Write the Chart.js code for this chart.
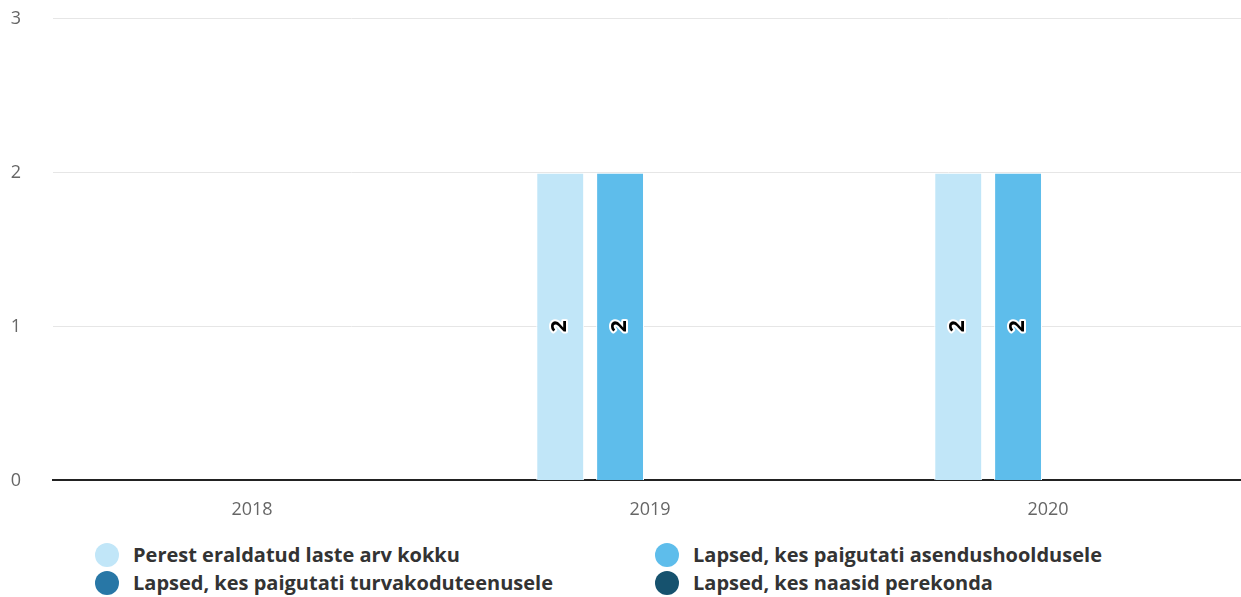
<!DOCTYPE html>
<html>
<head>
<meta charset="utf-8">
<script src="https://cdn.jsdelivr.net/npm/chart.js@4"></script>
<style>
  html, body { margin: 0; padding: 0; background: #fff; overflow: hidden; }
  #wrap { position: relative; width: 1241px; height: 597px; overflow: hidden; }
  #chartBox { position: absolute; left: -1px; top: -24px; width: 1248px; height: 564px; }
  #legend { position: absolute; left: 95px; top: 541px; width: 1100px;
    display: grid; grid-template-columns: 560px 540px; row-gap: 1px;
    font-family: "Open Sans", sans-serif; font-weight: 700; font-size: 20px; color: #333; }
  .li { display: flex; align-items: center; height: 27px; white-space: nowrap; }
  .dot { width: 24px; height: 24px; border-radius: 50%; margin-right: 14px; flex: none; }
</style>
</head>
<body>
<div id="wrap">
  <div id="chartBox"><canvas id="c"></canvas></div>
  <div id="legend"></div>
</div>
<script>
const categories = ["2018", "2019", "2020"];
const seriesNames = [
  "Perest eraldatud laste arv kokku",
  "Lapsed, kes paigutati asendushooldusele",
  "Lapsed, kes paigutati turvakoduteenusele",
  "Lapsed, kes naasid perekonda"
];
const seriesColors = ["#c1e6f8", "#5ebdeb", "#2877a6", "#16526e"];
const totalSeparated = [0, 2, 2];
const substituteCare = [0, 2, 2];
const shelterService = [0, 0, 0];
const returnedHome = [0, 0, 0];
const yTicks = [0, 1, 2, 3];

const seriesValues = [totalSeparated, substituteCare, shelterService, returnedHome];

const labelPlugin = {
  id: 'rotLabels',
  afterDatasetsDraw(chart) {
    const ctx = chart.ctx;
    chart.data.datasets.forEach((ds, i) => {
      const meta = chart.getDatasetMeta(i);
      meta.data.forEach((bar, j) => {
        const v = ds.data[j];
        if (!v) return;
        const yMid = (bar.y + bar.base) / 2;
        ctx.save();
        ctx.translate(bar.x, yMid);
        ctx.rotate(-Math.PI / 2);
        ctx.font = 'bold 21px "Open Sans", sans-serif';
        ctx.textAlign = 'center';
        ctx.textBaseline = 'middle';
        ctx.lineJoin = 'round';
        ctx.lineWidth = 4;
        ctx.strokeStyle = '#ffffff';
        ctx.strokeText(String(v), 0, 0);
        ctx.fillStyle = '#000000';
        ctx.fillText(String(v), 0, 0);
        ctx.restore();
      });
    });
  }
};

new Chart(document.getElementById('c'), {
  type: 'bar',
  data: {
    labels: categories,
    datasets: seriesNames.map((n, i) => ({
      label: n,
      data: seriesValues[i],
      backgroundColor: seriesColors[i],
      borderColor: '#ffffff',
      borderWidth: 1,
      categoryPercentage: 0.6015,
      barPercentage: 0.8
    }))
  },
  options: {
    responsive: true,
    maintainAspectRatio: false,
    animation: false,
    layout: { padding: { top: -14, right: 0, left: 0, bottom: 0 } },
    plugins: { legend: { display: false }, tooltip: { enabled: false } },
    scales: {
      x: {
        grid: { display: false, drawTicks: false },
        border: { display: true, color: '#222', width: 2 },
        ticks: { color: '#666', font: { family: '"Open Sans", sans-serif', size: 18 }, padding: 19 }
      },
      y: {
        min: 0, max: 3,
        afterBuildTicks(axis) { axis.ticks = yTicks.map(v => ({ value: v })); },
        afterFit(axis) { axis.width = 54; },
        grid: { color: '#e6e6e6', lineWidth: 1, drawTicks: false },
        border: { display: false },
        ticks: { color: '#666', font: { family: '"Open Sans", sans-serif', size: 18 }, padding: 32, align: 'center' }
      }
    }
  },
  plugins: [labelPlugin]
});

const lg = document.getElementById('legend');
const order = [0, 1, 2, 3];
order.forEach(i => {
  const d = document.createElement('div');
  d.className = 'li';
  d.innerHTML = '<span class="dot" style="background:' + seriesColors[i] + '"></span><span>' + seriesNames[i] + '</span>';
  lg.appendChild(d);
});
</script>
</body>
</html>
